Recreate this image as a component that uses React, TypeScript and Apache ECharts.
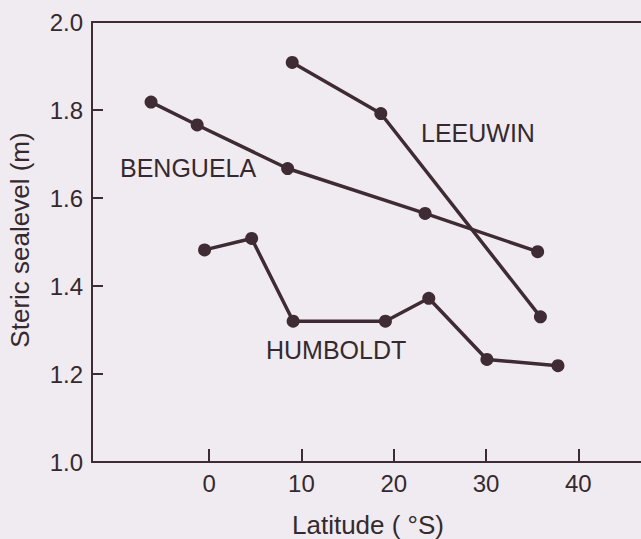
import React, { useEffect, useRef } from "react";
import * as echarts from "echarts";

const benguelaLat = [-6.3, -1.3, 8.5, 23.4, 35.6];
const benguelaVal = [1.818, 1.766, 1.667, 1.565, 1.478];
const leeuwinLat = [9.0, 18.6, 35.9];
const leeuwinVal = [1.908, 1.792, 1.33];
const humboldtLat = [-0.5, 4.6, 9.1, 19.1, 23.8, 30.1, 37.8];
const humboldtVal = [1.482, 1.508, 1.32, 1.32, 1.372, 1.233, 1.219];
const xTicks = [0, 10, 20, 30, 40];

const INK = "#3f2b33";
const TEXT = "#35292f";
const FONT = "'Liberation Sans', Arial, Helvetica, sans-serif";

function pairs(xs: number[], ys: number[]) {
  return xs.map((x, i) => [x, ys[i]]);
}

export default function App() {
  const ref = useRef<HTMLDivElement>(null);
  useEffect(() => {
    if (!ref.current) return;
    const chart = echarts.init(ref.current, null, { renderer: "svg" });
    const series = (name: string, data: number[][]) => ({
      name,
      type: "line",
      data,
      symbol: "circle",
      symbolSize: 13,
      lineStyle: { color: INK, width: 3.5 },
      itemStyle: { color: INK },
      z: 3,
    });
    chart.setOption({
      animation: false,
      backgroundColor: "#f0ebf0",
      textStyle: { fontFamily: FONT },
      grid: { left: 92, top: 22, right: 0, bottom: 77 },
      xAxis: [
        {
          type: "value",
          min: -12.7,
          max: 46.8,
          position: "bottom",
          splitLine: { show: false },
          axisLine: { show: true, onZero: false, lineStyle: { color: INK, width: 2 } },
          axisTick: { show: true, inside: true, length: 13, customValues: xTicks, lineStyle: { color: INK, width: 2 } },
          axisLabel: { customValues: xTicks, color: TEXT, fontSize: 24, margin: 9, fontFamily: FONT },
        },
        {
          type: "value",
          min: -12.7,
          max: 46.8,
          position: "top",
          splitLine: { show: false },
          axisLine: { show: true, onZero: false, lineStyle: { color: INK, width: 2 } },
          axisTick: { show: false },
          axisLabel: { show: false },
        },
      ],
      yAxis: {
        type: "value",
        min: 1.0,
        max: 2.0,
        interval: 0.2,
        splitLine: { show: false },
        axisLine: { show: true, onZero: false, lineStyle: { color: INK, width: 2 } },
        axisTick: { show: true, inside: true, length: 11, lineStyle: { color: INK, width: 2 } },
        axisLabel: {
          color: TEXT,
          fontSize: 24,
          margin: 9,
          fontFamily: FONT,
          formatter: (v: number) => v.toFixed(1),
        },
      },
      series: [
        series("BENGUELA", pairs(benguelaLat, benguelaVal)),
        series("LEEUWIN", pairs(leeuwinLat, leeuwinVal)),
        series("HUMBOLDT", pairs(humboldtLat, humboldtVal)),
      ],
      graphic: [
        { type: "text", x: 421, y: 133, style: { text: "LEEUWIN", fill: TEXT, fontSize: 25, fontFamily: FONT, verticalAlign: "middle" } },
        { type: "text", x: 120, y: 168, style: { text: "BENGUELA", fill: TEXT, fontSize: 25, fontFamily: FONT, verticalAlign: "middle" } },
        { type: "text", x: 266, y: 350, style: { text: "HUMBOLDT", fill: TEXT, fontSize: 25, fontFamily: FONT, verticalAlign: "middle" } },
        {
          type: "text",
          x: 368,
          y: 525,
          style: { text: "Latitude ( °S)", fill: TEXT, fontSize: 26, fontFamily: FONT, align: "center", verticalAlign: "middle" },
        },
        {
          type: "text",
          x: 20,
          y: 240,
          rotation: Math.PI / 2,
          style: { text: "Steric sealevel (m)", fill: TEXT, fontSize: 26, fontFamily: FONT, align: "center", verticalAlign: "middle" },
        },
      ],
    });
    return () => chart.dispose();
  }, []);
  return <div ref={ref} style={{ position: "absolute", left: 0, top: 0, width: 641, height: 539 }} />;
}
